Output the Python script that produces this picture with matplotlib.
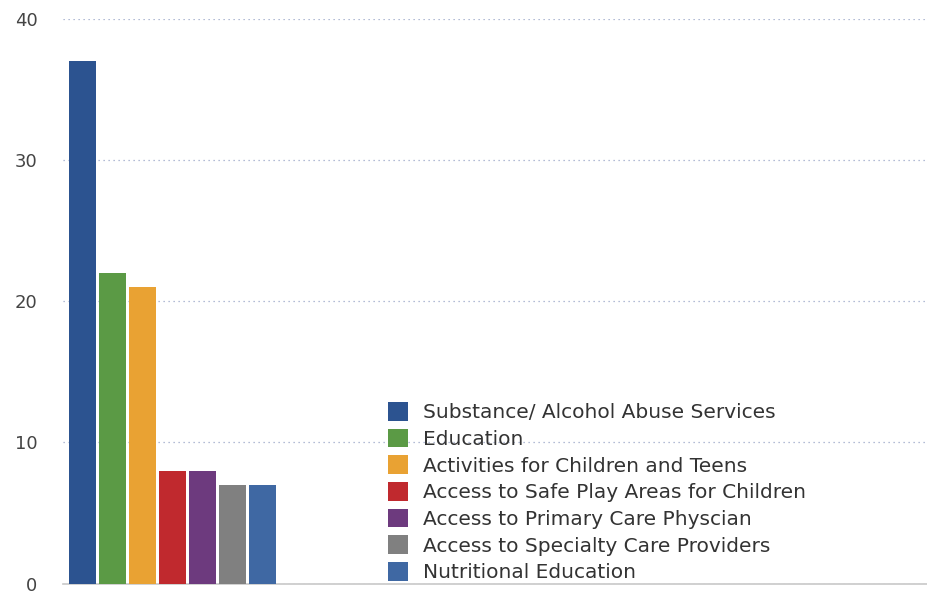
import matplotlib
matplotlib.use("Agg")
import matplotlib.pyplot as plt
from matplotlib.patches import Patch

# values
kategorien = ["Substance/ Alcohol Abuse Services", "Education",
              "Activities for Children and Teens",
              "Access to Safe Play Areas for Children",
              "Access to Primary Care Physcian",
              "Access to Specialty Care Providers",
              "Nutritional Education"]
werte = [37, 22, 21, 8, 8, 7, 7]
farben = ["#2c5390", "#5b9a45", "#e9a233", "#c0292e", "#6d3a7e", "#808080", "#3f68a3"]
y_ticks = [0, 10, 20, 30, 40]

plt.rcParams["font.family"] = ["DejaVu Sans"]

fig = plt.figure(figsize=(9.28, 5.93), dpi=100)
ax = fig.add_axes([0.068, 0.016, 0.932, 0.952])

x = list(range(len(werte)))
ax.bar(x, werte, width=0.9, color=farben, zorder=3)

ax.set_ylim(0, 40)
ax.set_xlim(-0.63, 28.2)
ax.set_yticks(y_ticks)
ax.set_yticklabels([str(t) for t in y_ticks])
ax.tick_params(axis="y", length=0, pad=18.5, labelsize=13, labelcolor="#444444")
ax.set_xticks([])

ax.yaxis.grid(True, linestyle=(0, (1, 3)), color="#9aa6c8", linewidth=0.9, zorder=0)

for s in ["top", "right", "left"]:
    ax.spines[s].set_visible(False)
ax.spines["bottom"].set_color("#c8c8c8")
ax.spines["bottom"].set_linewidth(1.2)

handles = [Patch(facecolor=f, edgecolor="none") for f in farben]
leg = ax.legend(handles, kategorien, loc="lower left", bbox_to_anchor=(0.366, -0.012),
                frameon=False, fontsize=14.5, handlelength=1.0, handleheight=1.05,
                handletextpad=0.75, labelspacing=0.32, borderaxespad=0)
for t in leg.get_texts():
    t.set_color("#333333")

fig.savefig("out.png", dpi=100)
